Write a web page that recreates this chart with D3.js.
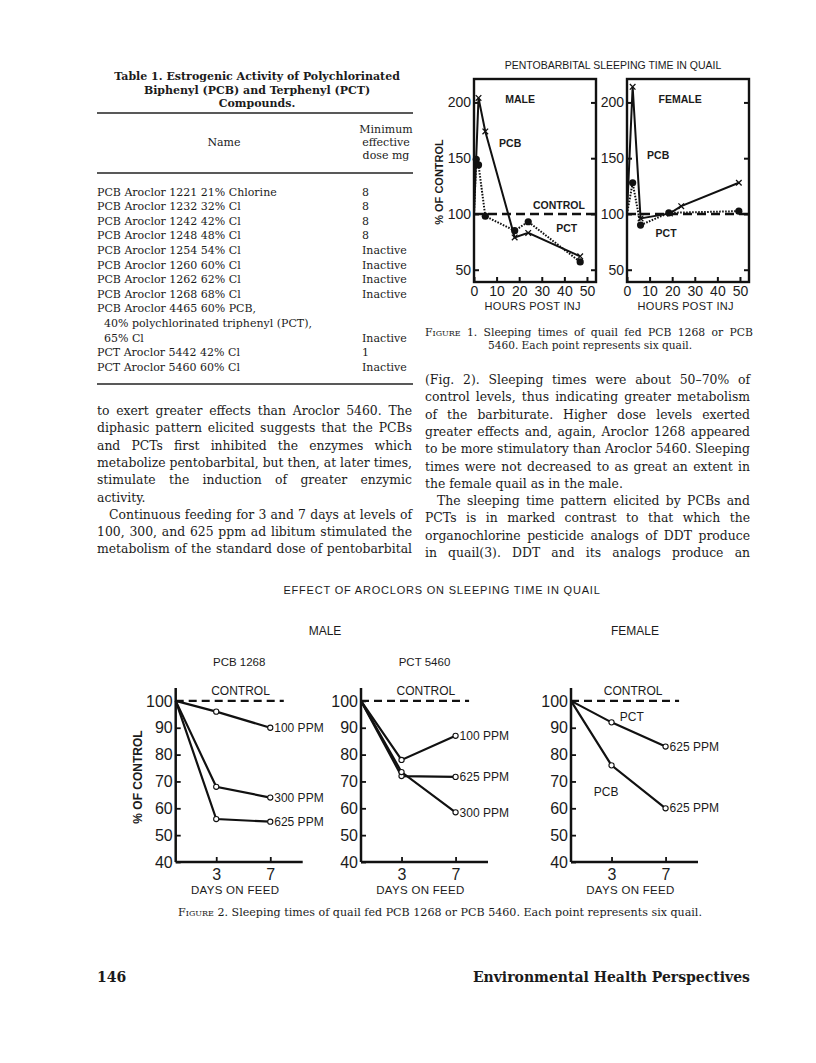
<!DOCTYPE html>
<meta charset="utf-8">
<script src="https://cdn.jsdelivr.net/npm/d3@7"></script>
<style>
  body { margin: 0; background: #fff; }
  svg { display: block; }
  .serif { font-family: "DejaVu Serif", serif; fill: #1b1b1b; }
  .sans { font-family: "Liberation Sans", Arial, sans-serif; fill: #1b1b1b; }
</style>
<svg></svg>
<script>
// ---------- data: figure 1 (hours post injection, % of control) ----------
var maleHoursPCB = [0, 2, 5, 18, 24, 47];
var malePCB = [100, 204, 174, 79, 83, 62];
var maleHoursPCT = [0, 1, 2, 5, 18, 24, 47];
var malePCT = [100, 149, 144, 98, 85, 93, 57];
var femaleHoursPCB = [0, 2.5, 6, 19, 24, 49.5];
var femalePCB = [100, 214, 96, 100.5, 107, 128];
var femaleHoursPCT = [0, 2.5, 6, 18.5, 49.5];
var femalePCT = [100, 128, 90, 101, 102.5];
var fig1YTicks = [50, 100, 150, 200];
var fig1XTicks = [0, 10, 20, 30, 40, 50];

// ---------- data: figure 2 (days on feed, % of control) ----------
var feedDays = [0, 3, 7];
var pcb1268_100 = [100, 96, 90];
var pcb1268_300 = [100, 68, 64];
var pcb1268_625 = [100, 56, 55];
var pct5460_100 = [100, 78, 87];
var pct5460_300 = [100, 73.5, 58.5];
var pct5460_625 = [100, 72, 71.7];
var femalePCT625 = [100, 92, 83];
var femalePCB625 = [100, 76, 60];
var fig2YTicks = [40, 50, 60, 70, 80, 90, 100];
var fig2XTicks = [3, 7];

// ---------- data: table 1 ----------
var tableNames = [
  "PCB Aroclor 1221 21% Chlorine", "PCB Aroclor 1232 32% Cl", "PCB Aroclor 1242 42% Cl",
  "PCB Aroclor 1248 48% Cl", "PCB Aroclor 1254 54% Cl", "PCB Aroclor 1260 60% Cl",
  "PCB Aroclor 1262 62% Cl", "PCB Aroclor 1268 68% Cl", "PCB Aroclor 4465 60% PCB,",
  "  40% polychlorinated triphenyl (PCT),", "  65% Cl", "PCT Aroclor 5442 42% Cl",
  "PCT Aroclor 5460 60% Cl"];
var tableDoses = ["8", "8", "8", "8", "Inactive", "Inactive", "Inactive", "Inactive",
  "", "", "Inactive", "1", "Inactive"];

var leftText = [
  "to exert greater effects than Aroclor 5460. The",
  "diphasic pattern elicited suggests that the PCBs",
  "and PCTs first inhibited the enzymes which",
  "metabolize pentobarbital, but then, at later times,",
  "stimulate the induction of greater enzymic",
  "activity.",
  "  Continuous feeding for 3 and 7 days at levels of",
  "100, 300, and 625 ppm ad libitum stimulated the",
  "metabolism of the standard dose of pentobarbital"];
var leftLast = [5];
var rightText = [
  "(Fig. 2). Sleeping times were about 50\u201370% of",
  "control levels, thus indicating greater metabolism",
  "of the barbiturate. Higher dose levels exerted",
  "greater effects and, again, Aroclor 1268 appeared",
  "to be more stimulatory than Aroclor 5460. Sleeping",
  "times were not decreased to as great an extent in",
  "the female quail as in the male.",
  "  The sleeping time pattern elicited by PCBs and",
  "PCTs is in marked contrast to that which the",
  "organochlorine pesticide analogs of DDT produce",
  "in quail(3). DDT and its analogs produce an"];
var rightLast = [6];

var W = 816, H = 1063;
var svg = d3.select("svg").attr("width", W).attr("height", H);
svg.append("rect").attr("width", W).attr("height", H).attr("fill", "#fff");

// one line of text, optionally justified with word spacing
function textLine(g, str, x, y, width, justify, size, weight) {
  var indent = /^\s+/.test(str) ? 12 : 0;
  str = str.trim();
  var t = g.append("text").attr("class", "serif")
    .attr("x", x + indent).attr("y", y)
    .attr("font-size", size || 12.4)
    .attr("font-weight", weight || "normal")
    .text(str);
  if (justify) {
    var n = str.split(/\s+/).length - 1;
    var w = t.node().getComputedTextLength();
    if (n > 0) t.attr("word-spacing", (width - indent - w) / n);
  }
  return t;
}

// ---------- table 1 ----------
var tg = svg.append("g");
["Table 1. Estrogenic Activity of Polychlorinated",
 "Biphenyl (PCB) and Terphenyl (PCT)",
 "Compounds."].forEach(function(s, i) {
  tg.append("text").attr("class", "serif").attr("x", 257).attr("y", 80 + i * 13.5)
    .attr("text-anchor", "middle").attr("font-size", 11).attr("font-weight", "bold").text(s);
});
[113, 173, 384].forEach(function(y) {
  tg.append("line").attr("x1", 97).attr("x2", 413).attr("y1", y).attr("y2", y)
    .attr("stroke", "#222").attr("stroke-width", 1.3);
});
tg.append("text").attr("class", "serif").attr("x", 224).attr("y", 146)
  .attr("text-anchor", "middle").attr("font-size", 11).text("Name");
["Minimum", "effective", "dose mg"].forEach(function(s, i) {
  tg.append("text").attr("class", "serif").attr("x", 386).attr("y", 133 + i * 13)
    .attr("text-anchor", "middle").attr("font-size", 11).text(s);
});
tableNames.forEach(function(s, i) {
  var y = 195.5 + i * 14.6;
  var ind = /^\s+/.test(s) ? 7 : 0;
  tg.append("text").attr("class", "serif").attr("x", 97 + ind).attr("y", y)
    .attr("font-size", 11).text(s.trim());
  tg.append("text").attr("class", "serif").attr("x", 362).attr("y", y)
    .attr("font-size", 11).text(tableDoses[i]);
});

// ---------- body text ----------
var bg = svg.append("g");
leftText.forEach(function(s, i) {
  textLine(bg, s, 97, 415 + i * 17.3, 315, leftLast.indexOf(i) < 0);
});
rightText.forEach(function(s, i) {
  textLine(bg, s, 425, 384 + i * 17.3, 325, rightLast.indexOf(i) < 0);
});

// figure 1 caption
var c1 = bg.append("text").attr("class", "serif").attr("x", 425).attr("y", 336).attr("font-size", 10.8);
c1.append("tspan").attr("font-variant", "small-caps").text("Figure");
c1.append("tspan").text(" 1. Sleeping times of quail fed PCB 1268 or PCB");
c1.attr("word-spacing", (325 - c1.node().getComputedTextLength()) / 9);
bg.append("text").attr("class", "serif").attr("x", 590).attr("y", 349).attr("font-size", 10.6)
  .attr("text-anchor", "middle").text("5460. Each point represents six quail.");

// figure 2 caption
var c2 = bg.append("text").attr("class", "serif").attr("x", 440).attr("y", 916)
  .attr("font-size", 11.1).attr("text-anchor", "middle");
c2.append("tspan").attr("font-variant", "small-caps").text("Figure");
c2.append("tspan").text(" 2. Sleeping times of quail fed PCB 1268 or PCB 5460. Each point represents six quail.");

// footer
bg.append("text").attr("class", "serif").attr("x", 97).attr("y", 982)
  .attr("font-size", 14).attr("font-weight", "bold").text("146");
bg.append("text").attr("class", "serif").attr("x", 750).attr("y", 982)
  .attr("font-size", 14).attr("font-weight", "bold").attr("text-anchor", "end")
  .text("Environmental Health Perspectives");

// ---------- figure 1 ----------
var f1 = svg.append("g");
f1.append("text").attr("class", "sans").attr("x", 613).attr("y", 69)
  .attr("text-anchor", "middle").attr("font-size", 10.5)
  .text("PENTOBARBITAL SLEEPING TIME IN QUAIL");
f1.append("text").attr("class", "sans").attr("transform", "translate(443,182) rotate(-90)")
  .attr("text-anchor", "middle").attr("font-size", 11).attr("font-weight", "bold")
  .text("% OF CONTROL");

var y1 = d3.scaleLinear().domain([39, 221]).range([282, 79]);

function fig1Panel(left, pcbH, pcbV, pctH, pctV, labels) {
  var x = d3.scaleLinear().domain([0, 54]).range([left, left + 122]);
  var g = f1.append("g");
  g.append("rect").attr("x", x(0)).attr("y", y1(221)).attr("width", x(54) - x(0))
    .attr("height", y1(39) - y1(221)).attr("fill", "none").attr("stroke", "#111").attr("stroke-width", 2.4);

  var ax = g.append("g").attr("transform", "translate(" + x(0) + ",0)")
    .call(d3.axisLeft(y1).tickValues(fig1YTicks).tickSize(-5).tickPadding(3));
  var ar = g.append("g").attr("transform", "translate(" + x(54) + ",0)")
    .call(d3.axisRight(y1).tickValues(fig1YTicks).tickSize(-5).tickFormat(""));
  var ab = g.append("g").attr("transform", "translate(0," + y1(39) + ")")
    .call(d3.axisBottom(x).tickValues(fig1XTicks).tickSize(-5).tickPadding(3));
  [ax, ar, ab].forEach(function(a) {
    a.select(".domain").remove();
    a.selectAll(".tick line").attr("stroke", "#111").attr("stroke-width", 2);
    a.selectAll("text").attr("class", "sans").attr("font-size", 14).attr("fill", "#1b1b1b");
  });
  ab.selectAll("text").attr("dy", "0.8em");

  // control line
  g.append("line").attr("x1", x(0)).attr("x2", x(54)).attr("y1", y1(100)).attr("y2", y1(100))
    .attr("stroke", "#111").attr("stroke-width", 2.4).attr("stroke-dasharray", "9,5");

  var line = d3.line().x(function(d) { return x(d[0]); }).y(function(d) { return y1(d[1]); });
  var pct = d3.zip(pctH, pctV), pcb = d3.zip(pcbH, pcbV);
  g.append("path").attr("d", line(pct)).attr("fill", "none").attr("stroke", "#111")
    .attr("stroke-width", 2).attr("stroke-dasharray", "1.6,1.4");
  g.append("path").attr("d", line(pcb)).attr("fill", "none").attr("stroke", "#111").attr("stroke-width", 2);
  g.selectAll(".dot").data(pct.slice(1)).enter().append("circle")
    .attr("cx", function(d) { return x(d[0]); }).attr("cy", function(d) { return y1(d[1]); })
    .attr("r", 3.6).attr("fill", "#111");
  g.selectAll(".cross").data(pcb.slice(1)).enter().append("path")
    .attr("transform", function(d) { return "translate(" + x(d[0]) + "," + y1(d[1]) + ")"; })
    .attr("d", "M-2.8,-2.8L2.8,2.8M-2.8,2.8L2.8,-2.8")
    .attr("fill", "none").attr("stroke", "#111").attr("stroke-width", 1.3);

  labels.forEach(function(l) {
    g.append("text").attr("class", "sans").attr("x", x(l[1])).attr("y", y1(l[2]))
      .attr("text-anchor", "middle").attr("dy", "0.35em").attr("font-size", 10.5)
      .attr("font-weight", "bold").text(l[0]);
  });
  g.append("text").attr("class", "sans").attr("x", x(26)).attr("y", 310)
    .attr("text-anchor", "middle").attr("font-size", 11).attr("letter-spacing", 0.3)
    .text("HOURS POST INJ");
}
fig1Panel(474, maleHoursPCB, malePCB, maleHoursPCT, malePCT,
  [["MALE", 20.4, 203], ["PCB", 16, 163], ["CONTROL", 37.6, 108], ["PCT", 41, 87.5]]);
fig1Panel(627, femaleHoursPCB, femalePCB, femaleHoursPCT, femalePCT,
  [["FEMALE", 23.5, 203], ["PCB", 13.8, 153], ["PCT", 17.3, 83]]);

// ---------- figure 2 ----------
var f2 = svg.append("g");
f2.append("text").attr("class", "sans").attr("x", 442).attr("y", 594)
  .attr("text-anchor", "middle").attr("font-size", 11).attr("letter-spacing", 0.8)
  .text("EFFECT OF AROCLORS ON SLEEPING TIME IN QUAIL");
f2.append("text").attr("class", "sans").attr("x", 325).attr("y", 635)
  .attr("text-anchor", "middle").attr("font-size", 12).text("MALE");
f2.append("text").attr("class", "sans").attr("x", 635).attr("y", 635)
  .attr("text-anchor", "middle").attr("font-size", 12).text("FEMALE");
f2.append("text").attr("class", "sans").attr("transform", "translate(142,777) rotate(-90)")
  .attr("text-anchor", "middle").attr("font-size", 12).attr("font-weight", "bold")
  .text("% OF CONTROL");

var y2 = d3.scaleLinear().domain([40, 104.8]).range([862, 688]);

function fig2Panel(left, title, series, notes) {
  var x = d3.scaleLinear().domain([0, 9.4]).range([left, left + 127]);
  var g = f2.append("g");
  if (title) {
    g.append("text").attr("class", "sans").attr("x", x(4.7)).attr("y", 666)
      .attr("text-anchor", "middle").attr("font-size", 11.5).text(title);
  }
  var ay = g.append("g").attr("transform", "translate(" + x(0) + ",0)")
    .call(d3.axisLeft(y2).tickValues(fig2YTicks).tickSize(-5).tickPadding(3));
  var axb = g.append("g").attr("transform", "translate(0," + y2(40) + ")")
    .call(d3.axisBottom(x).tickValues(fig2XTicks).tickSize(-5).tickPadding(4));
  [ay, axb].forEach(function(a) {
    a.select(".domain").attr("stroke", "#111").attr("stroke-width", 2.5);
    a.selectAll(".tick line").attr("stroke", "#111").attr("stroke-width", 1.8);
    a.selectAll("text").attr("class", "sans").attr("font-size", 16).attr("fill", "#1b1b1b");
  });
  axb.select(".domain").attr("d", "M" + x(0) + ",0H" + x(9.4));
  ay.select(".domain").attr("d", "M0," + y2(104.8) + "V" + y2(40));
  axb.selectAll("text").attr("dy", "0.85em");
  g.append("text").attr("class", "sans").attr("x", x(4.4)).attr("y", 894)
    .attr("text-anchor", "middle").attr("font-size", 11.5).attr("letter-spacing", 0.3)
    .text("DAYS ON FEED");

  g.append("line").attr("x1", x(0)).attr("x2", x(8)).attr("y1", y2(100)).attr("y2", y2(100))
    .attr("stroke", "#111").attr("stroke-width", 2.4).attr("stroke-dasharray", "8,5");

  var line = d3.line().x(function(d, i) { return x(feedDays[i]); }).y(function(d) { return y2(d); });
  series.forEach(function(s) {
    g.append("path").attr("d", line(s.v)).attr("fill", "none")
      .attr("stroke", "#111").attr("stroke-width", 2.2);
    g.selectAll(null).data(s.v.slice(1)).enter().append("circle")
      .attr("cx", function(d, i) { return x(feedDays[i + 1]); })
      .attr("cy", function(d) { return y2(d); })
      .attr("r", 2.6).attr("fill", "#fff").attr("stroke", "#111").attr("stroke-width", 1.1);
    g.append("text").attr("class", "sans").attr("x", x(7) + 4).attr("y", y2(s.v[2]))
      .attr("dy", "0.35em").attr("font-size", 12).text(s.label);
  });
  notes.forEach(function(n) {
    g.append("text").attr("class", "sans").attr("x", x(n[1])).attr("y", y2(n[2]))
      .attr("text-anchor", "middle").attr("dy", "0.35em").attr("font-size", 12).text(n[0]);
  });
}
fig2Panel(175.7, "PCB 1268",
  [{v: pcb1268_100, label: "100 PPM"}, {v: pcb1268_300, label: "300 PPM"}, {v: pcb1268_625, label: "625 PPM"}],
  [["CONTROL", 4.8, 103.8]]);
fig2Panel(361, "PCT 5460",
  [{v: pct5460_100, label: "100 PPM"}, {v: pct5460_625, label: "625 PPM"}, {v: pct5460_300, label: "300 PPM"}],
  [["CONTROL", 4.8, 103.8]]);
fig2Panel(571, null,
  [{v: femalePCT625, label: "625 PPM"}, {v: femalePCB625, label: "625 PPM"}],
  [["CONTROL", 4.6, 103.8], ["PCT", 4.5, 94], ["PCB", 2.6, 66]]);
</script>
